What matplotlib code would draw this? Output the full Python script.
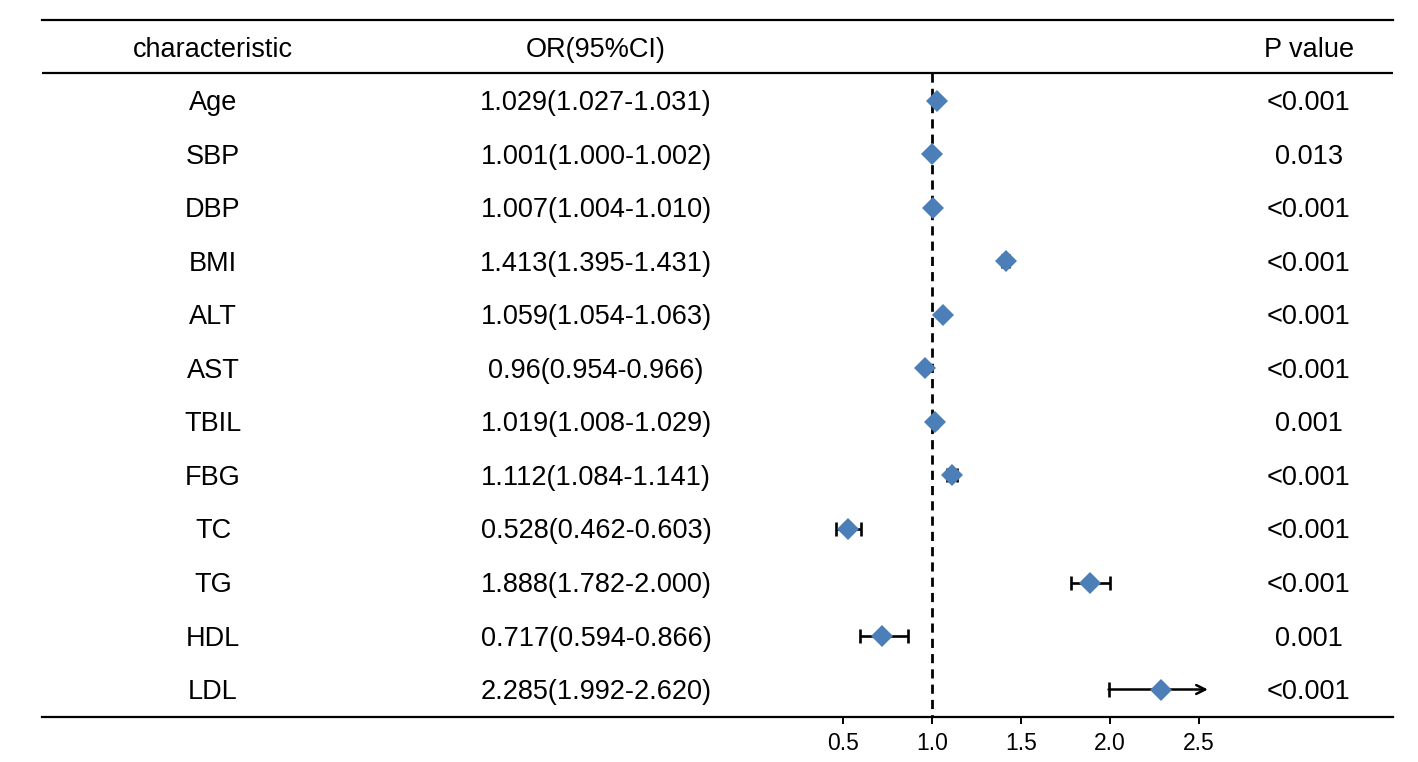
import matplotlib
matplotlib.use("Agg")
import matplotlib.pyplot as plt
import matplotlib.transforms as mtransforms

plt.rcParams['font.family'] = ['Liberation Sans', 'DejaVu Sans']

# ---- data ----
characteristics = ["Age", "SBP", "DBP", "BMI", "ALT", "AST", "TBIL", "FBG", "TC", "TG", "HDL", "LDL"]
or_values = [1.029, 1.001, 1.007, 1.413, 1.059, 0.96, 1.019, 1.112, 0.528, 1.888, 0.717, 2.285]
ci_low = [1.027, 1.000, 1.004, 1.395, 1.054, 0.954, 1.008, 1.084, 0.462, 1.782, 0.594, 1.992]
ci_high = [1.031, 1.002, 1.010, 1.431, 1.063, 0.966, 1.029, 1.141, 0.603, 2.000, 0.866, 2.620]
or_labels = ["1.029(1.027-1.031)", "1.001(1.000-1.002)", "1.007(1.004-1.010)",
             "1.413(1.395-1.431)", "1.059(1.054-1.063)", "0.96(0.954-0.966)",
             "1.019(1.008-1.029)", "1.112(1.084-1.141)", "0.528(0.462-0.603)",
             "1.888(1.782-2.000)", "0.717(0.594-0.866)", "2.285(1.992-2.620)"]
p_values = ["<0.001", "0.013", "<0.001", "<0.001", "<0.001", "<0.001",
            "0.001", "<0.001", "<0.001", "<0.001", "0.001", "<0.001"]
headers = ["characteristic", "OR(95%CI)", "P value"]
x_ticks = [0.5, 1.0, 1.5, 2.0, 2.5]
x_tick_labels = ["0.5", "1.0", "1.5", "2.0", "2.5"]
ref_line = 1.0

# ---- styling / layout ----
W, H = 1418, 762
DPI = 100
left_px, right_px, top_px, bottom_px = 42, 1393, 20, 717
x_px_per_unit = 178.0
x_one_px = 932
clip_max = 2.55
marker_color = "#4C7FB8"
fs = 19.5

fig = plt.figure(figsize=(W / DPI, H / DPI), dpi=DPI)
ax = fig.add_axes([left_px / W, 1 - bottom_px / H,
                   (right_px - left_px) / W, (bottom_px - top_px) / H])

xmin = 1 - (x_one_px - left_px) / x_px_per_unit
xmax = 1 + (right_px - x_one_px) / x_px_per_unit
ax.set_xlim(xmin, xmax)
n = len(characteristics)
row_px = 53.5
first_row_px = 101
ytop = (top_px - first_row_px) / row_px
ybot = (bottom_px - first_row_px) / row_px
ax.set_ylim(ybot, ytop)

rows = list(range(n))

# spines
for s in ["left", "right"]:
    ax.spines[s].set_visible(False)
ax.spines["top"].set_linewidth(1.6)
ax.spines["bottom"].set_linewidth(1.6)
header_line_y = (73 - first_row_px) / row_px
ax.axhline(header_line_y, color="black", lw=1.6)

ax.set_yticks([])
ax.set_xticks(x_ticks)
ax.set_xticklabels(x_tick_labels)
ax.tick_params(axis="x", direction="out", length=5, width=1.4, pad=6, labelsize=16.5)

# reference dashed line
ax.plot([ref_line, ref_line], [header_line_y, ybot], color="black", lw=2.0,
        linestyle=(0, (3.3, 2.2)), zorder=1)

# error bars
cap_half = 7.0 / row_px
for i in rows:
    lo = ci_low[i]
    hi = ci_high[i]
    if hi > clip_max:
        ax.annotate("", xy=(clip_max, i), xytext=(lo, i),
                    arrowprops=dict(arrowstyle="->", color="black", lw=1.8,
                                    mutation_scale=16, shrinkA=0, shrinkB=0),
                    zorder=2)
        ax.plot([lo, lo], [i - cap_half, i + cap_half], color="black", lw=1.9,
                solid_capstyle="butt", zorder=2)
    else:
        ax.errorbar([or_values[i]], [i], xerr=[[or_values[i] - lo], [hi - or_values[i]]],
                    fmt="none", ecolor="black", elinewidth=1.9, capsize=5,
                    capthick=1.9, zorder=2)

ax.plot(or_values, rows, linestyle="none", marker="D", markersize=11,
        color=marker_color, markeredgewidth=0, zorder=3)

# text columns
trans = mtransforms.blended_transform_factory(ax.transAxes, ax.transData)
def fx(px):
    return (px - left_px) / (right_px - left_px)

col_x = [fx(213), fx(596), fx(1309)]
base_off = 9.5 / row_px
header_y = -1
for cx, h in zip(col_x, headers):
    ax.text(cx, header_y + base_off, h, transform=trans, ha="center", va="baseline", fontsize=fs)
for i in rows:
    ax.text(col_x[0], i + base_off, characteristics[i], transform=trans, ha="center", va="baseline", fontsize=fs)
    ax.text(col_x[1], i + base_off, or_labels[i], transform=trans, ha="center", va="baseline", fontsize=fs)
    ax.text(col_x[2], i + base_off, p_values[i], transform=trans, ha="center", va="baseline", fontsize=fs)

fig.savefig("out.png", dpi=DPI)
